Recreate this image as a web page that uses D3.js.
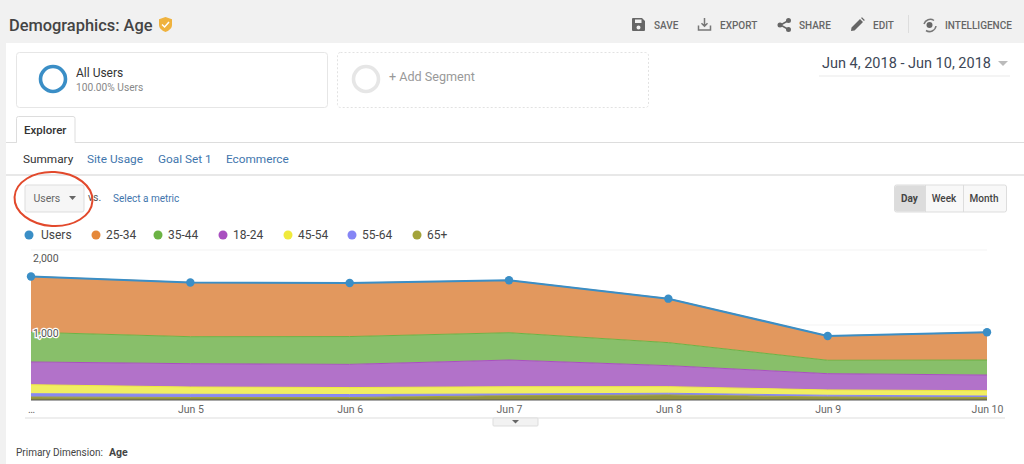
<!DOCTYPE html>
<html>
<head>
<meta charset="utf-8">
<script src="https://d3js.org/d3.v7.min.js"></script>
<style>
	html, body { margin: 0; padding: 0; background: #fff; overflow: hidden; }
	text { font-family: Roboto, "Noto Sans", sans-serif; }
</style>
</head>
<body>
<div id="page"></div>
<script>
// values
var days = ["…", "Jun 5", "Jun 6", "Jun 7", "Jun 8", "Jun 9", "Jun 10"];
var users = [1647, 1567, 1560, 1596, 1351, 853, 903];
var age2534 = [744, 723, 713, 699, 587, 324, 370];
var age3544 = [396, 360, 371, 364, 307, 179, 200];
var age1824 = [303, 311, 309, 356, 280, 217, 209];
var age4554 = [120, 97, 93, 97, 88, 71, 71];
var age5564 = [44, 43, 40, 23, 23, 23, 20];
var age65 = [40, 33, 33, 57, 67, 40, 33];
var yTicks = [1000, 2000];

var legendNames = ["Users", "25-34", "35-44", "18-24", "45-54", "55-64", "65+"];
var legendColors = ["#3a8ec6", "#e5883a", "#6cb344", "#a94fc0", "#f0ea3c", "#8585f5", "#a3a33a"];
var areaColors = ["#3a8ec6", "#e2985e", "#88bf6a", "#b272c9", "#f1ee62", "#8a8aef", "#94943f"];
var legendX = [29, 96, 158, 223, 288, 352, 417];

var tabNames = ["Summary", "Site Usage", "Goal Set 1", "Ecommerce"];
var tabX = [23, 87, 158, 226];
var toolNames = ["SAVE", "EXPORT", "SHARE", "EDIT", "INTELLIGENCE"];
var toolX = [654, 720, 799, 873, 945];
var periodNames = ["Day", "Week", "Month"];
var periodX = [909.5, 944, 984];

var svg = d3.select("#page").append("svg")
	.attr("width", 1024)
	.attr("height", 464)
	.style("display", "block");

function label(x, y, str, size, color, weight, anchor) {
	return svg.append("text")
		.attr("x", x)
		.attr("y", y)
		.attr("dy", ".35em")
		.attr("text-anchor", anchor || "start")
		.style("font-size", size + "px")
		.style("font-weight", weight || 400)
		.style("fill", color)
		.text(str);
}

function box(x, y, w, h, fill, stroke, r) {
	return svg.append("rect")
		.attr("x", x).attr("y", y)
		.attr("width", w).attr("height", h)
		.attr("rx", r || 0)
		.style("fill", fill)
		.style("stroke", stroke);
}

function hline(x1, x2, y, color, width) {
	svg.append("line")
		.attr("x1", x1).attr("x2", x2)
		.attr("y1", y).attr("y2", y)
		.style("stroke", color)
		.style("stroke-width", width || 1);
}

function icon(x, y, scale, d, fill, stroke) {
	svg.append("path")
		.attr("transform", "translate(" + x + "," + y + ") scale(" + scale + ")")
		.attr("d", d)
		.style("fill", fill)
		.style("stroke", stroke || "none")
		.style("stroke-width", stroke ? 1.5 : 0);
}

// page frame
box(0, 0, 1024, 43, "#f1f1f1", "none");
box(0, 43, 6, 421, "#f1f1f1", "none");

// header
label(9, 25, "Demographics: Age", 16.4, "#444", 500);
icon(159, 17, 1, "M6.5 0 L13 2.2 V8 C13 11.5 9.5 13.8 6.5 15 C3.5 13.8 0 11.5 0 8 V2.2 Z", "#efb23e");
icon(162, 21, 1, "M0 3.5 L2.6 6 L7 1", "none", "#fff");

toolNames.forEach(function(name, i) {
	label(toolX[i], 25, name, 10, "#666", 500);
});
icon(632, 18, 1, "M1 0 H10 L13 3 V12 A1 1 0 0 1 12 13 H1 A1 1 0 0 1 0 12 V1 A1 1 0 0 1 1 0 Z M3 1.5 V5 H9.5 V1.5 Z M6.5 7.5 A2 2 0 1 0 6.5 11.5 A2 2 0 1 0 6.5 7.5 Z", "#666");
icon(698, 18, 1, "M6.5 0 V8 M3.5 5.2 L6.5 8.2 L9.5 5.2 M.5 7.5 V12 H12.5 V7.5", "none", "#777");
icon(778, 18, 1, "M10.5 2.5 L2.5 7 L10.5 11.5", "none", "#666");
icon(776, 18, 1, "M12.5 0 A2.5 2.5 0 1 0 12.5 5 A2.5 2.5 0 1 0 12.5 0 Z M12.5 9 A2.5 2.5 0 1 0 12.5 14 A2.5 2.5 0 1 0 12.5 9 Z M4 4.5 A2.5 2.5 0 1 0 4 9.5 A2.5 2.5 0 1 0 4 4.5 Z", "#666");
icon(851, 18, 1, "M0 13 L.5 9.5 L9 1 L12 4 L3.5 12.5 Z M10 0 L11 -.8 L13.8 2 L13 3 Z", "#666");
svg.append("line").attr("x1", 908.5).attr("x2", 908.5).attr("y1", 15).attr("y2", 33).style("stroke", "#ddd");
icon(923, 19, 1, "M1 5 A6.5 6.5 0 0 1 11 1.5 M13 7 A6.5 6.5 0 0 1 3 11.5", "none", "#777");
svg.append("circle").attr("cx", 929.5).attr("cy", 25).attr("r", 3).style("fill", "#666");

// segments
box(16.5, 52.5, 311, 55, "#fff", "#e6e6e6", 3);
box(337.5, 52.5, 311, 55, "#fff", "#e2e2e2", 3).style("stroke-dasharray", "2,2");
svg.append("circle").attr("cx", 53).attr("cy", 79).attr("r", 12.5).style("fill", "none").style("stroke", "#3a8ec6").style("stroke-width", 3.6);
svg.append("circle").attr("cx", 366).attr("cy", 79).attr("r", 12.5).style("fill", "none").style("stroke", "#e6e6e6").style("stroke-width", 3.6);
label(76, 73, "All Users", 12, "#333");
label(76, 87, "100.00% Users", 10.2, "#888");
label(389, 77, "+ Add Segment", 12.6, "#999");

// date range
label(822, 63, "Jun 4, 2018 - Jun 10, 2018", 14.5, "#3d4756");
svg.append("path").attr("d", "M998 61 H1008 L1003 66 Z").style("fill", "#bbb");
hline(819, 1010, 76, "#f1f1f1", 1.5);

// tabs
hline(6, 1024, 142.5, "#ddd");
hline(6, 1024, 175, "#e8e8e8", 2);
svg.append("path").attr("d", "M16.5 142.5 V118.5 A2 2 0 0 1 18.5 116.5 H73 A2 2 0 0 1 75 118.5 V142.5").style("fill", "#fff").style("stroke", "#ddd");
svg.append("rect").attr("x", 17).attr("y", 141).attr("width", 57.5).attr("height", 3).style("fill", "#fff");
label(24, 130, "Explorer", 11.5, "#333", 500);
tabNames.forEach(function(name, i) {
	label(tabX[i], 158.5, name, 11.8, i == 0 ? "#333" : "#3f76ad");
});

// metric selector
box(25, 185, 59, 27, "#f6f6f6", "#ddd", 2);
label(33.5, 198, "Users", 10.5, "#666");
svg.append("path").attr("d", "M69 196 H76 L72.5 200 Z").style("fill", "#666");
label(88, 197, "vs.", 10.5, "#555");
label(113, 198, "Select a metric", 10, "#3f76ad");
box(894.5, 185, 112, 27, "#f8f8f8", "#ddd", 2);
box(895, 185.5, 31, 26, "#dcdcdc", "none", 2);
svg.append("line").attr("x1", 963.5).attr("x2", 963.5).attr("y1", 185).attr("y2", 212).style("stroke", "#ddd");
svg.append("line").attr("x1", 925.5).attr("x2", 925.5).attr("y1", 185).attr("y2", 212).style("stroke", "#ddd");
periodNames.forEach(function(name, i) {
	label(periodX[i], 198, name, 10, "#444", i == 0 ? 700 : 500, "middle");
});

// legend
legendNames.forEach(function(name, i) {
	svg.append("circle").attr("cx", legendX[i]).attr("cy", 235).attr("r", 4.5).style("fill", legendColors[i]);
	label(legendX[i] + (i == 0 ? 12 : 10), 235, name, 12, "#444");
});

// chart
var x = d3.scalePoint().domain(days).range([31, 987]);
var y = d3.scaleLinear().domain([0, 2000]).range([400, 250]);

var rows = days.map(function(d, i) {
	return {
		day: d,
		"25-34": age2534[i],
		"35-44": age3544[i],
		"18-24": age1824[i],
		"45-54": age4554[i],
		"55-64": age5564[i],
		"65+": age65[i]
	};
});
var stackKeys = ["65+", "55-64", "45-54", "18-24", "35-44", "25-34"];
var stacked = d3.stack().keys(stackKeys)(rows);

svg.append("g").selectAll("line").data(yTicks).enter().append("line")
	.attr("x1", 31).attr("x2", 987)
	.attr("y1", function(d) { return y(d); })
	.attr("y2", function(d) { return y(d); })
	.style("stroke", "#f3f3f3");

var area = d3.area()
	.x(function(d) { return x(d.data.day); })
	.y0(function(d) { return y(d[0]); })
	.y1(function(d) { return y(d[1]); });

var topLine = d3.line()
	.x(function(d) { return x(d.data.day); })
	.y(function(d) { return y(d[1]); });

function colorOf(key) {
	return legendColors[legendNames.indexOf(key)];
}

svg.append("g").selectAll("path").data(stacked).enter().append("path")
	.attr("d", area)
	.style("fill", function(d) { return areaColors[legendNames.indexOf(d.key)]; });

svg.append("g").selectAll("path").data(stacked).enter().append("path")
	.attr("d", topLine)
	.style("fill", "none")
	.style("stroke", function(d) { return colorOf(d.key); })
	.style("stroke-width", 1);

hline(31, 987, 400, "#555", 1);

var usersLine = d3.line()
	.x(function(d, i) { return x(days[i]); })
	.y(function(d) { return y(d); });

svg.append("path")
	.attr("d", usersLine(users))
	.style("fill", "none")
	.style("stroke", "#3a8ec6")
	.style("stroke-width", 2);

svg.append("g").selectAll("circle").data(users).enter().append("circle")
	.attr("cx", function(d, i) { return x(days[i]); })
	.attr("cy", function(d) { return y(d); })
	.attr("r", 4.2)
	.style("fill", "#3a8ec6");

// y labels sit on the plot with a white halo
var yAxis = d3.axisRight(y).tickValues(yTicks).tickSize(0).tickFormat(d3.format(","));
var yG = svg.append("g").attr("transform", "translate(33,8)").call(yAxis);
yG.select(".domain").remove();
yG.selectAll("text")
	.attr("x", 0)
	.style("font-size", "10.5px")
	.style("fill", "#555")
	.style("paint-order", "stroke")
	.style("stroke", "#fff")
	.style("stroke-width", 2.5);

var xAxis = d3.axisBottom(x).tickSize(0);
var xG = svg.append("g").attr("transform", "translate(0,403)").call(xAxis);
xG.select(".domain").remove();
xG.selectAll("text")
	.style("font-size", "10.5px")
	.style("fill", "#666");

// bottom of chart
hline(25, 1005, 418, "#ddd", 1.2);
box(493, 418, 45, 8, "#f2f2f2", "#ddd", 1);
svg.append("path").attr("d", "M512 420 H519 L515.5 423.5 Z").style("fill", "#666");
label(16, 452, "Primary Dimension:", 10, "#444");
label(109, 452, "Age", 10.5, "#444", 700);

// red hand-drawn ring around the metric selector
svg.append("ellipse")
	.attr("cx", 53.5).attr("cy", 199)
	.attr("rx", 39).attr("ry", 27)
	.attr("transform", "rotate(3 53.5 199)")
	.style("fill", "none")
	.style("stroke", "#e2492c")
	.style("stroke-width", 2);
</script>
</body>
</html>
